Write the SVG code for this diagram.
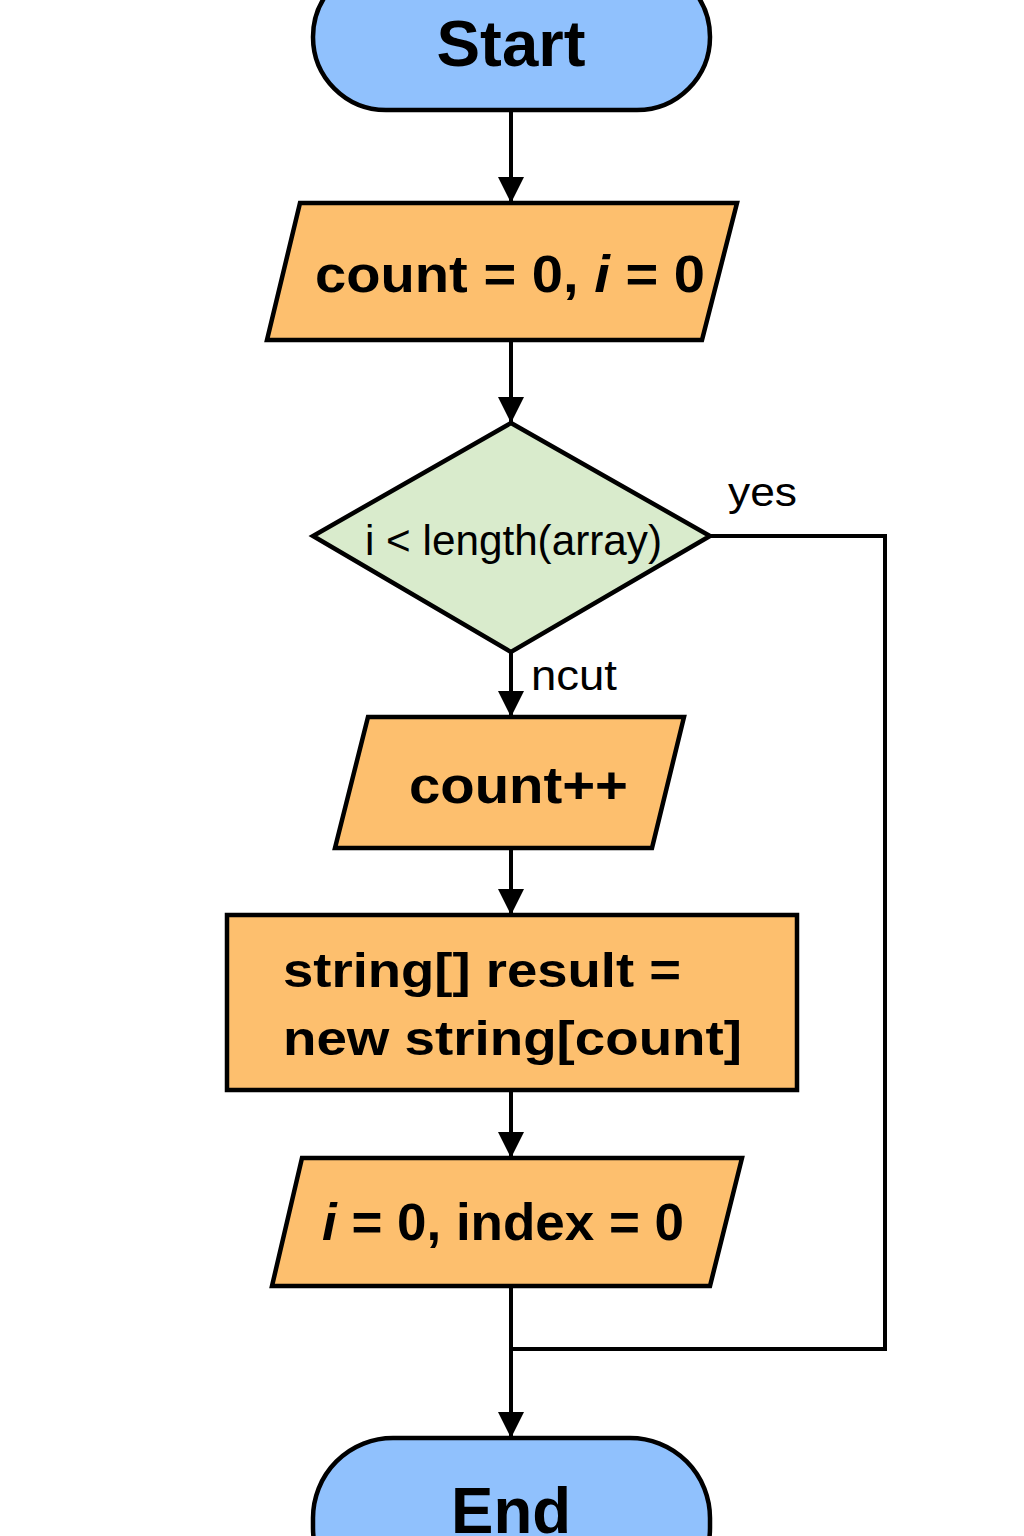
<svg xmlns="http://www.w3.org/2000/svg" width="1024" height="1536" viewBox="0 0 1024 1536">
<style>
.term{fill:#90c1fd;stroke:#000;stroke-width:4.5}
.io{fill:#fdbf6e;stroke:#000;stroke-width:4.5}
.dec{fill:#d9ebcc;stroke:#000;stroke-width:4.5}
.ln{fill:none;stroke:#000;stroke-width:4}
.b{font-family:"Liberation Sans",Arial,sans-serif;font-weight:bold;fill:#000}
.n{font-family:"Liberation Sans",Arial,sans-serif;fill:#000}
</style>
<defs>
<marker id="ah2" viewBox="0 0 26 26" refX="26" refY="13" markerWidth="26" markerHeight="26" orient="auto" markerUnits="userSpaceOnUse">
<path d="M0,0 L26,13 L0,26 z" fill="#000"/>
</marker>
</defs>
<g id="connectors">
<line class="ln" x1="511" y1="110" x2="511" y2="203" marker-end="url(#ah2)"/>
<line class="ln" x1="511" y1="340" x2="511" y2="423" marker-end="url(#ah2)"/>
<line class="ln" x1="511" y1="652" x2="511" y2="717" marker-end="url(#ah2)"/>
<line class="ln" x1="511" y1="848" x2="511" y2="915" marker-end="url(#ah2)"/>
<line class="ln" x1="511" y1="1090" x2="511" y2="1158" marker-end="url(#ah2)"/>
<line class="ln" x1="511" y1="1286" x2="511" y2="1438" marker-end="url(#ah2)"/>
<polyline class="ln" points="710,536 885,536 885,1349 511,1349"/>
<text class="n" x="728" y="506" font-size="40" textLength="69" lengthAdjust="spacingAndGlyphs">yes</text>
<text class="n" x="531" y="690" font-size="42" textLength="86" lengthAdjust="spacingAndGlyphs">ncut</text>
</g>
<g id="start">
<rect class="term" x="313" y="-36" width="397" height="146" rx="73" ry="73"/>
<text class="b" x="511" y="66" font-size="64" text-anchor="middle" textLength="149" lengthAdjust="spacingAndGlyphs">Start</text>
</g>
<g id="init">
<polygon class="io" points="300,203 737,203 702,340 267,340"/>
<text class="b" x="315" y="292" font-size="52" textLength="390" lengthAdjust="spacingAndGlyphs">count = 0, <tspan font-style="italic">i</tspan> = 0</text>
</g>
<g id="cond">
<polygon class="dec" points="511,423 710,536 511,652 313,536"/>
<text class="n" x="365" y="555" font-size="42" textLength="297" lengthAdjust="spacingAndGlyphs">i &lt; length(array)</text>
</g>
<g id="inc">
<polygon class="io" points="368,717 684,717 652,848 335,848"/>
<text class="b" x="409" y="803" font-size="52" textLength="219" lengthAdjust="spacingAndGlyphs">count++</text>
</g>
<g id="alloc">
<rect class="io" x="227" y="915" width="570" height="175"/>
<text class="b" x="283" y="987" font-size="49" textLength="398" lengthAdjust="spacingAndGlyphs">string[] result =</text>
<text class="b" x="283" y="1055" font-size="49" textLength="459" lengthAdjust="spacingAndGlyphs">new string[count]</text>
</g>
<g id="reset">
<polygon class="io" points="302,1158 742,1158 710,1286 272,1286"/>
<text class="b" x="322" y="1240" font-size="52" textLength="362" lengthAdjust="spacingAndGlyphs"><tspan font-style="italic">i</tspan> = 0, index =  0</text>
</g>
<g id="end">
<rect class="term" x="313" y="1438" width="397" height="170" rx="80" ry="80"/>
<text class="b" x="511" y="1533" font-size="64" text-anchor="middle" textLength="120" lengthAdjust="spacingAndGlyphs">End</text>
</g>
</svg>
